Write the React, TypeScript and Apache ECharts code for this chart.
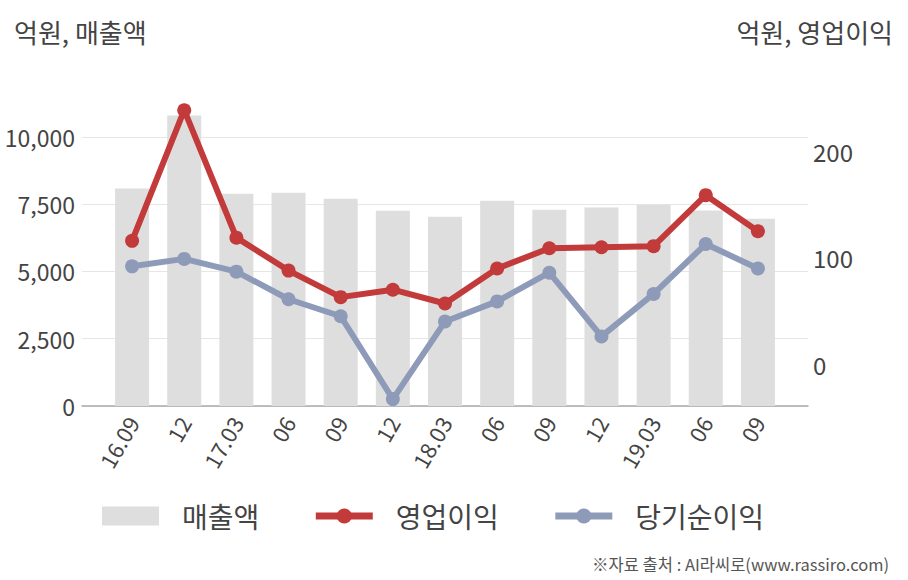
import React, { useEffect, useRef } from "react";
import * as echarts from "echarts";

const categories = ["16.09", "12", "17.03", "06", "09", "12", "18.03", "06", "09", "12", "19.03", "06", "09"];
const sales = [8080, 10800, 7890, 7930, 7700, 7260, 7030, 7630, 7290, 7380, 7480, 7270, 6960];
const operatingProfit = [116, 239, 119, 88, 63, 70, 57, 90, 109, 110, 111, 159, 125];
const netProfit = [92, 99, 87, 61, 45, -33, 40, 59, 86, 26, 66, 113, 90];

const leftMin = 0;
const leftMax = 11500;
const leftInterval = 2500;
const rightMin = -39.5;
const rightMax = 251.8;

const FONT = '"Noto Sans CJK KR", "Noto Sans", sans-serif';
const RED = "#c23a3a";
const BLUE = "#8e9bb8";

export default function App() {
  const ref = useRef<HTMLDivElement>(null);
  useEffect(() => {
    if (!ref.current) return;
    const chart = echarts.init(ref.current, undefined, { renderer: "svg" });
    const gridTop = 96.6;
    const gridBottom = 174;
    chart.setOption({
      animation: false,
      textStyle: { fontFamily: FONT },
      grid: [
        { left: 82, right: 100, top: gridTop, bottom: gridBottom },
        { left: 106, right: 124, top: gridTop, bottom: gridBottom },
      ],
      title: [
        { text: "억원, 매출액", left: 9, top: 13, textStyle: { fontSize: 26, fontWeight: "normal", color: "#444", fontFamily: FONT } },
        { text: "억원, 영업이익", right: 10, top: 13, textStyle: { fontSize: 26, fontWeight: "normal", color: "#444", fontFamily: FONT } },
        { text: "※자료 출처 : AI라씨로(www.rassiro.com)", right: 14, top: 551, textStyle: { fontSize: 16.5, fontWeight: "normal", color: "#555", fontFamily: FONT } },
      ],
      legend: {
        top: 497,
        left: 97,
        itemWidth: 57,
        itemHeight: 19,
        itemGap: 53,
        textStyle: { fontSize: 28, color: "#444", fontFamily: FONT, padding: [0, 0, 0, 18] },
        data: [
          { name: "매출액", icon: "rect" },
          { name: "영업이익", lineStyle: { width: 7, color: RED } },
          { name: "당기순이익", lineStyle: { width: 7, color: BLUE } },
        ],
      },
      xAxis: [
        {
          gridIndex: 0,
          type: "value",
          min: 0,
          max: 1,
          axisLine: { show: true, onZero: false, lineStyle: { color: "#aaa", width: 1.5 } },
          axisTick: { show: false },
          axisLabel: { show: false },
          splitLine: { show: false },
        },
        {
          gridIndex: 1,
          type: "category",
          data: categories,
          axisLine: { show: false },
          axisTick: { show: false },
          axisLabel: { rotate: 60, fontSize: 22, color: "#444", margin: 12, interval: 0 },
        },
      ],
      yAxis: [
        {
          gridIndex: 0,
          type: "value",
          position: "left",
          min: leftMin,
          max: leftMax,
          interval: leftInterval,
          axisLine: { show: false },
          axisTick: { show: false },
          axisLabel: {
            fontSize: 23,
            color: "#444",
            margin: 7,
            formatter: (v: number) => (v % leftInterval === 0 ? v.toLocaleString("en-US") : ""),
            showMaxLabel: false,
          },
          splitLine: { show: true, showMaxLine: false, lineStyle: { color: "#e6e6e6", width: 1 } },
        },
        {
          gridIndex: 0,
          type: "value",
          position: "right",
          min: rightMin,
          max: rightMax,
          splitNumber: 3,
          axisLine: { show: false },
          axisTick: { show: false },
          axisLabel: {
            fontSize: 24,
            color: "#444",
            margin: 5,
            formatter: (v: number) => (Math.abs(v % 100) < 1e-6 ? String(Math.round(v)) : ""),
            showMinLabel: false,
            showMaxLabel: false,
          },
          splitLine: { show: false },
        },
        { gridIndex: 1, type: "value", min: leftMin, max: leftMax, show: false },
        { gridIndex: 1, type: "value", min: rightMin, max: rightMax, show: false },
      ],
      series: [
        {
          name: "매출액",
          type: "bar",
          xAxisIndex: 1,
          yAxisIndex: 2,
          data: sales,
          barWidth: 34,
          itemStyle: { color: "#dedede" },
        },
        {
          name: "영업이익",
          type: "line",
          xAxisIndex: 1,
          yAxisIndex: 3,
          data: operatingProfit,
          symbol: "circle",
          symbolSize: 14,
          lineStyle: { color: RED, width: 6 },
          itemStyle: { color: RED },
        },
        {
          name: "당기순이익",
          type: "line",
          xAxisIndex: 1,
          yAxisIndex: 3,
          data: netProfit,
          symbol: "circle",
          symbolSize: 14,
          lineStyle: { color: BLUE, width: 6 },
          itemStyle: { color: BLUE },
        },
      ],
    });
    return () => chart.dispose();
  }, []);
  return <div ref={ref} style={{ width: 908, height: 580, position: "absolute", left: 0, top: 0 }} />;
}
